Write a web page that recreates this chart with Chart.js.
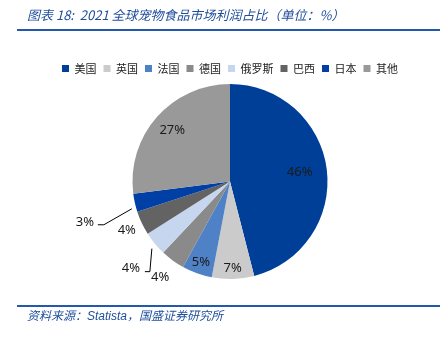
<!DOCTYPE html>
<html><head><meta charset="utf-8">
<script src="https://cdn.jsdelivr.net/npm/chart.js@4"></script>
<style>
html,body{margin:0;padding:0;background:#fff;width:445px;height:338px;overflow:hidden;font-family:"Noto Sans CJK SC","Noto Sans",sans-serif;}
#title{position:absolute;left:27px;top:5px;font-size:13px;font-style:italic;color:#1f4e9c;white-space:nowrap;}
#l1{position:absolute;left:17px;top:29px;width:423px;height:2px;background:#2358ab;}
#l2{position:absolute;left:17px;top:305px;width:423px;height:2px;background:#2358ab;}
#foot{position:absolute;left:27px;top:306px;font-size:12px;font-style:italic;color:#1f4e9c;white-space:nowrap;}
#wrap{position:absolute;left:0;top:0;width:445px;height:338px;}
</style></head><body>
<div id="wrap"><canvas id="c" width="445" height="338"></canvas></div>
<div id="title">图表 18:&nbsp; 2021 全球宠物食品市场利润占比（单位：%）</div>
<div id="l1"></div>
<div id="foot">资料来源：<span style="font-family:'Liberation Sans',sans-serif">Statista</span>，国盛证券研究所</div>
<div id="l2"></div>
<script>
const categories = ["美国","英国","法国","德国","俄罗斯","巴西","日本","其他"];
const values = [46,7,5,4,4,4,3,27];
const labelTexts = ["46%","7%","5%","4%","4%","4%","3%","27%"];
const colors = ["#003f98","#cbcbcb","#4f81c6","#8a8a8a","#c5d6ee","#636363","#0040a6","#999999"];

// label placement: radial factor, or leader line {elbow/end offsets relative to edge point}
const placement = [
  {r:0.72},{r:0.89},{r:0.88},{r:1.22},
  {leader:[[-3,5],[-5,28],[-10,28]], text:[-24,25]},
  {r:1.17},
  {leader:[[-3,6],[-31,22],[-37,22]], text:[-50,20]},
  {r:0.79}
];

const labelPlugin = {
  id:'pieLabels',
  afterDatasetsDraw(chart){
    const ctx = chart.ctx;
    const meta = chart.getDatasetMeta(0);
    ctx.save();
    ctx.font = '13px "Noto Sans", sans-serif';
    ctx.fillStyle = '#1a1a1a';
    ctx.textAlign='center'; ctx.textBaseline='middle';
    meta.data.forEach((arc,i)=>{
      const p = arc.getProps(['x','y','startAngle','endAngle','outerRadius'],true);
      const mid = (p.startAngle+p.endAngle)/2;
      const pl = placement[i];
      const ex = p.x + Math.cos(mid)*p.outerRadius, ey = p.y + Math.sin(mid)*p.outerRadius;
      if (pl.leader){
        ctx.strokeStyle='#000'; ctx.lineWidth=1;
        ctx.beginPath();
        pl.leader.forEach((o,k)=>{ if(k===0) ctx.moveTo(ex+o[0],ey+o[1]); else ctx.lineTo(ex+o[0],ey+o[1]); });
        ctx.stroke();
        ctx.fillText(labelTexts[i], ex+pl.text[0], ey+pl.text[1]);
      } else {
        const rr = p.outerRadius*pl.r;
        ctx.fillText(labelTexts[i], p.x+Math.cos(mid)*rr, p.y+Math.sin(mid)*rr);
      }
    });
    ctx.restore();
  }
};

new Chart(document.getElementById('c'),{
  type:'pie',
  data:{labels:categories,datasets:[{data:values,backgroundColor:colors,borderWidth:0}]},
  options:{
    responsive:false,animation:false,
    layout:{padding:{left:15,right:0,top:56,bottom:59}},
    plugins:{
      legend:{position:'top',labels:{boxWidth:7,boxHeight:7,padding:7,color:'#222',font:{size:11,family:'"Noto Sans CJK SC", sans-serif'}}},
      tooltip:{enabled:false}
    }
  },
  plugins:[labelPlugin]
});
</script>
</body></html>
